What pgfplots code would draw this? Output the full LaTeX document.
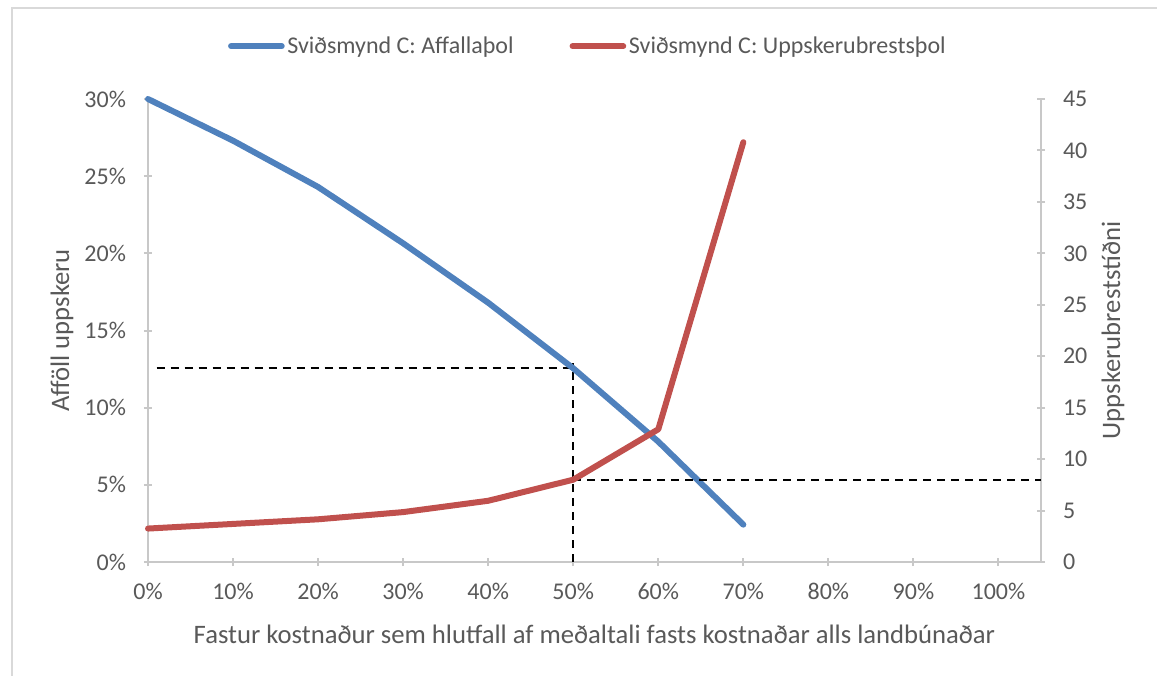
\documentclass[border=0pt]{standalone}
\usepackage{fontspec}
\setmainfont{Carlito}
\usepackage{pgfplots}
\pgfplotsset{compat=1.18}
\definecolor{txt}{HTML}{595959}
\definecolor{axgray}{HTML}{C8C8C8}
\definecolor{sblue}{HTML}{4F81BD}
\definecolor{sred}{HTML}{C0504D}
\begin{document}
\begin{tikzpicture}
\useasboundingbox (-111pt,-84.75pt) rectangle (756.75pt,421.5pt);
\draw[gray!30, line width=1pt] (-102pt,-90pt) -- (-102pt,415.5pt) -- (760pt,415.5pt);
\pgfplotsset{
  every axis/.append style={
    scale only axis, width=669.75pt, height=347.25pt,
    at={(0pt,0pt)}, anchor=south west,
    xmin=0, xmax=105, ymin=0,
    /pgf/number format/assume math mode=true,
    tick label style={font=\fontsize{18}{21}\selectfont, text=txt},
    axis line style={-, axgray, line width=1.5pt},
    major tick style={axgray, line width=1.5pt},
    major tick length=6pt,
    tick align=outside,
  },
}
\begin{axis}[
  axis x line=bottom, axis y line=left,
  axis line style={-},
  ymax=30,
  xtick={0,10,...,100},
  xticklabel={\pgfmathprintnumber{\tick}\%},
  ytick={0,5,...,30},
  yticklabel={\pgfmathprintnumber{\tick}\%},
  xticklabel style={yshift=-9pt},
  yticklabel style={xshift=-10pt},
  xlabel={Fastur kostnaður sem hlutfall af meðaltali fasts kostnaðar alls landbúnaðar},
  ylabel={Afföll uppskeru},
  xlabel style={at={(axis description cs:0.5,-0.1555)}, anchor=center, font=\fontsize{20}{24}\selectfont, text=txt},
  ylabel style={at={(axis description cs:-0.0963,0.5)}, anchor=center, font=\fontsize{20}{24}\selectfont, text=txt},
  clip=false,
]
\addplot[forget plot, black, line width=1.5pt, dash pattern=on 6pt off 4.5pt] coordinates {(1,12.55) (50,12.55)};
\addplot[forget plot, black, line width=1.5pt, dash pattern=on 6pt off 4.5pt] coordinates {(50,0) (50,12.9)};
\addplot[sblue, line width=4.5pt, line cap=round, line join=round] coordinates {
(0,30) (10,27.3) (20,24.3) (30,20.65) (40,16.8) (50,12.55) (60,7.8) (70,2.42)};
\end{axis}
\begin{axis}[
  axis x line=none, axis y line=right,
  axis line style={-},
  ymax=45,
  ytick={0,5,...,45},
  yticklabel style={xshift=10pt},
  ylabel={Uppskerubreststíðni},
  ylabel style={at={(axis description cs:1.0806,0.5)}, anchor=center, font=\fontsize{20}{24}\selectfont, text=txt},
  legend style={at={(0.493,1.114)}, anchor=center, draw=none, fill=none,
    font=\fontsize{18}{21}\selectfont, text=txt, legend columns=2,
    /tikz/every even column/.append style={column sep=40pt}},
  legend image code/.code={\draw[#1, line cap=round] (0pt,0pt) -- (38pt,0pt);},
  clip=false,
]
\addlegendimage{sblue, line width=4.5pt}
\addlegendentry{Sviðsmynd C: Affallaþol}
\addplot[forget plot, black, line width=1.5pt, dash pattern=on 6pt off 4.5pt] coordinates {(50,8) (105,8)};
\addplot[sred, line width=4.5pt, line cap=round, line join=round] coordinates {
(0,3.25) (10,3.7) (20,4.15) (30,4.85) (40,5.95) (50,8.0) (60,12.9) (70,40.8)};
\addlegendentry{Sviðsmynd C: Uppskerubrestsþol}
\end{axis}
\end{tikzpicture}
\end{document}
